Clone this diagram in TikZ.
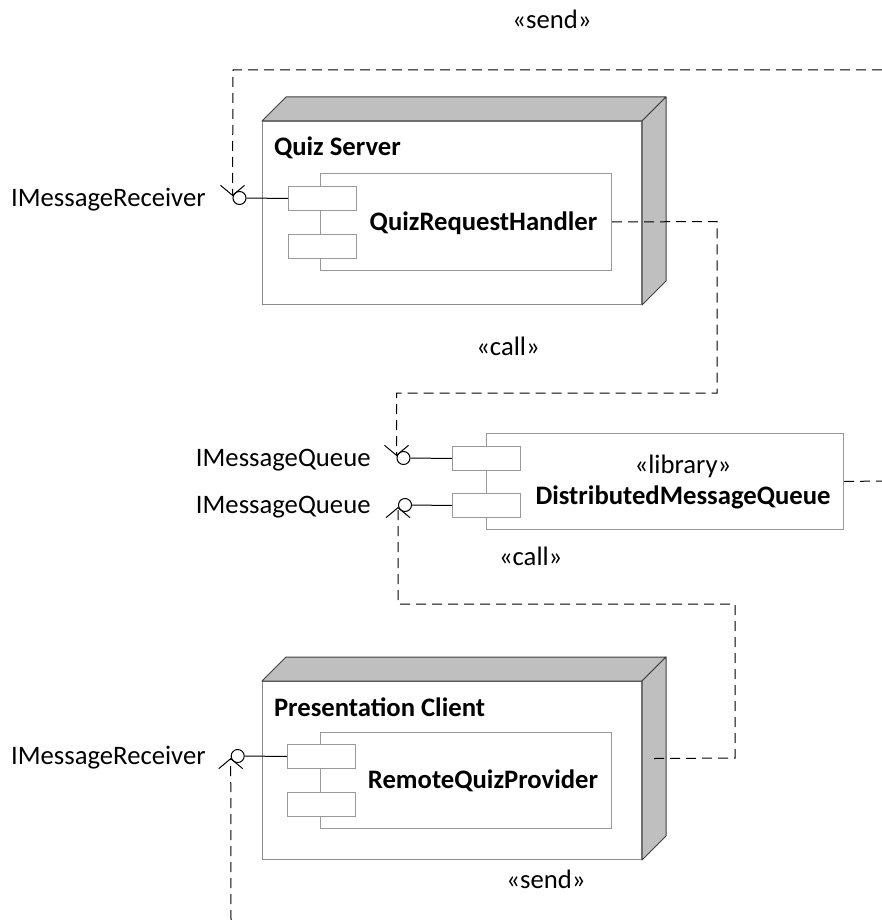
\documentclass[tikz,border=0pt]{standalone}
\usepackage{fontspec}
\setmainfont{Carlito}
\usetikzlibrary{arrows.meta,calc}
\begin{document}
\begin{tikzpicture}[x=1pt,y=-1pt,
  font=\fontsize{26.67}{32}\selectfont,
  line width=1pt,
  device/.style={draw=black!45, fill=white, inner sep=0, anchor=north west},
  face/.style={draw=black!75, fill=black!25, line join=round},
  comp/.style={draw=black!40, fill=white, inner sep=0, anchor=north west},
  port/.style={draw=black!40, fill=white, inner sep=0, anchor=north west,
    minimum width=68, minimum height=24},
  ball/.style={circle, draw=black, fill=white, minimum size=13, inner sep=0},
  dep/.style={dash pattern=on 10pt off 6pt,
    -{Straight Barb[length=10pt,width=24pt,line width=1pt]}},
  plain dep/.style={dash pattern=on 10pt off 6pt},
  txt/.style={inner sep=0, anchor=base},
  rtxt/.style={inner sep=0, anchor=base east},
  ltxt/.style={inner sep=0, anchor=base west},
]
\useasboundingbox (0,0) rectangle (882,920);

% ---- device: Quiz Server ----
\node[device, minimum width=379, minimum height=183] (qs) at (262,121) {};
\draw[face] (qs.north west) -- ++(24,-24) -- ($(qs.north east)+(24,-24)$) -- (qs.north east) -- cycle;
\draw[face] (qs.north east) -- ++(24,-24) -- ($(qs.south east)+(24,-24)$) -- (qs.south east) -- cycle;
\node[ltxt, font=\fontsize{26.67}{32}\selectfont\bfseries] (qsname) at (273.5,156) {Quiz Server};

\node[comp, minimum width=291, minimum height=97] (qrh) at (320,173) {};
\node[port] (qrhp1) at (288,186) {};
\node[port] (qrhp2) at (288,234) {};
\node[txt, font=\fontsize{26.67}{32}\selectfont\bfseries] (qrhname) at (483.5,230) {QuizRequestHandler};

% ---- library component ----
\node[comp, minimum width=357, minimum height=96] (dmq) at (486,433) {};
\node[port] (dmqp1) at (452,446) {};
\node[port] (dmqp2) at (452,493) {};
\node[txt] (dmqst) at (683,473) {«library»};
\node[txt, font=\fontsize{26.67}{32}\selectfont\bfseries] (dmqname) at (683,504) {DistributedMessageQueue};

% ---- device: Presentation Client ----
\node[device, minimum width=379, minimum height=178] (pc) at (262,681) {};
\draw[face] (pc.north west) -- ++(24,-24) -- ($(pc.north east)+(24,-24)$) -- (pc.north east) -- cycle;
\draw[face] (pc.north east) -- ++(24,-24) -- ($(pc.south east)+(24,-24)$) -- (pc.south east) -- cycle;
\node[ltxt, font=\fontsize{26.67}{32}\selectfont\bfseries] (pcname) at (273.5,716) {Presentation Client};

\node[comp, minimum width=291, minimum height=96] (rqp) at (320,732) {};
\node[port] (rqpp1) at (287,744) {};
\node[port] (rqpp2) at (287,792) {};
\node[txt, font=\fontsize{26.67}{32}\selectfont\bfseries] (rqpname) at (483,788) {RemoteQuizProvider};

% ---- provided interfaces (lollipops) ----
\node[ball] (b1) at (239.5,198) {};
\node[ball] (mq1) at (403.5,458) {};
\node[ball] (mq2) at (405,505) {};
\node[ball] (b2) at (237.7,756) {};
\draw (b1.east) -- (qrhp1.west);
\draw (mq1.east) -- (dmqp1.west);
\draw (mq2.east) -- (dmqp2.west);
\draw (b2.east) -- (rqpp1.west);

\node[rtxt] (l1) at (206,206.5) {IMessageReceiver};
\node[rtxt] (l2) at (371,466.5) {IMessageQueue};
\node[rtxt] (l3) at (371,513.5) {IMessageQueue};
\node[rtxt] (l4) at (206,764) {IMessageReceiver};

% ---- dependencies ----
\coordinate (topR) at (882,70);
\coordinate (midR) at (882,481);
\coordinate (botB) at (231,920);
\coordinate (pcOut) at ($(pc.east)+(12,-12)$);

\draw[dep] (topR) -- (233,70) -- ($(b1.west)+(0,-2)$);
\draw[dep] (qrh.east) -- (717,221.5) -- (717,393) -- (mq1.west |- 0,393) -- ($(mq1.west)+(0,-2)$);
\draw[dep] (pcOut) -- (735,758) -- (735,604) -- (mq2.west |- 0,604) -- ($(mq2.west)+(0,2)$);
\draw[dep] (botB) -- ($(b2.west)+(0,2)$);
\draw[plain dep] (dmq.east) -- (midR);

\node[txt] (send1) at (552,28.3) {«send»};
\node[txt] (call1) at (508,355) {«call»};
\node[txt] (call2) at (530.7,565) {«call»};
\node[txt] (send2) at (546,888) {«send»};
\end{tikzpicture}
\end{document}
